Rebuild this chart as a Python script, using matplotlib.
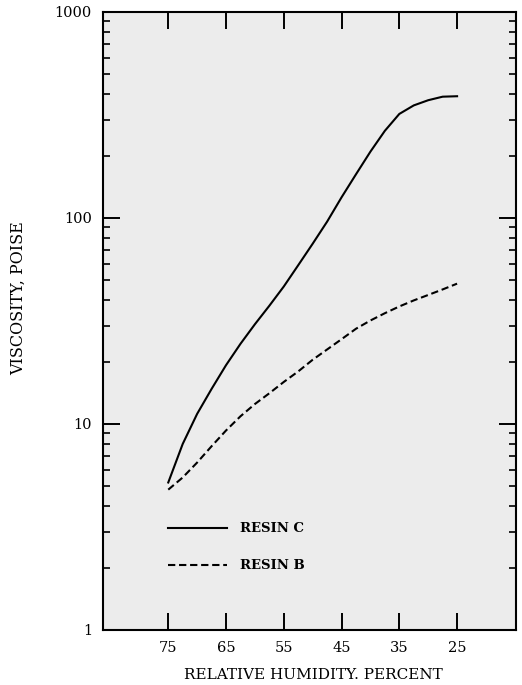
import numpy as np
import matplotlib
matplotlib.use("Agg")
import matplotlib.pyplot as plt
from matplotlib.ticker import LogLocator, NullFormatter

# relative humidity (percent) and viscosity (poise)
humidity = [75, 72.5, 70, 67.5, 65, 62.5, 60, 57.5, 55, 52.5, 50,
            47.5, 45, 42.5, 40, 37.5, 35, 32.5, 30, 27.5, 25]
resin_c = [5.2, 8.0, 11.2, 14.8, 19.3, 24.5, 30.5, 37.5, 46.5, 59, 75,
           96, 126, 163, 210, 265, 320, 352, 373, 388, 390]
resin_b = [4.8, 5.5, 6.5, 7.8, 9.3, 10.9, 12.5, 14.1, 16.0, 18.0, 20.5,
           23.0, 25.8, 29.0, 31.8, 34.5, 37.2, 39.8, 42.3, 45, 48]

x_ticks = [75, 65, 55, 45, 35, 25]
y_ticks = [1, 10, 100, 1000]
y_ticklabels = ["1", "10", "100", "1000"]

plt.rcParams['font.family'] = ['DejaVu Serif']

fig = plt.figure(figsize=(5.22, 6.85), dpi=100)
ax = fig.add_axes([0.1973, 0.0803, 0.7912, 0.9022])
ax.set_facecolor('#ececec')

ax.plot(humidity, resin_c, color='black', lw=1.5, label='RESIN C')
ax.plot(humidity, resin_b, color='black', lw=1.5, dashes=(3.5, 1.8), label='RESIN B')

ax.set_yscale('log')
ax.set_xlim(86.3, 14.8)  # humidity decreases to the right
ax.set_ylim(1, 1000)

ax.set_xticks(x_ticks)
ax.set_xticklabels([str(t) for t in x_ticks])
ax.set_yticks(y_ticks)
ax.set_yticklabels(y_ticklabels)
ax.yaxis.set_minor_locator(LogLocator(base=10, subs=np.arange(2, 10)))
ax.yaxis.set_minor_formatter(NullFormatter())

ax.tick_params(which='major', direction='in', length=12, width=1.4,
               top=True, right=True, labelsize=10.5, pad=8)
ax.tick_params(which='minor', direction='in', length=5, width=1.2,
               left=True, right=True)
for s in ax.spines.values():
    s.set_linewidth(1.5)

leg = ax.legend(loc='upper left', bbox_to_anchor=(0.157, 0.174),
                frameon=False, handlelength=4.5, handletextpad=1.0,
                labelspacing=1.8, borderpad=0, borderaxespad=0,
                prop={'weight': 'bold', 'size': 9.5})

fig.text(0.6, 0.014, 'RELATIVE HUMIDITY. PERCENT', ha='center', va='center',
         fontsize=11)
fig.text(0.035, 0.565, 'VISCOSITY, POISE', ha='center', va='center',
         rotation=90, fontsize=11.5)

fig.savefig('out.png', dpi=100)
